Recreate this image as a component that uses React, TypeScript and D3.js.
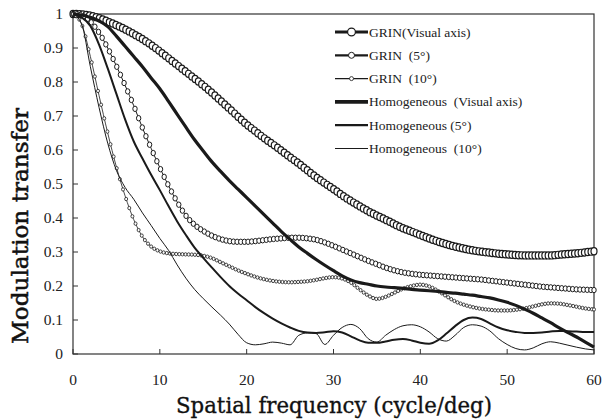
import React, { useEffect, useRef } from 'react';
import * as d3 from 'd3';

// ---- data ----
const freq = [0,1,2,3,4,5,6,7,8,9,10,11,12,13,14,15,16,17,18,19,20,21,22,23,24,25,26,27,28,29,30,31,32,33,34,35,36,37,38,39,40,41,42,43,44,45,46,47,48,49,50,51,52,53,54,55,56,57,58,59,60];

const grinVisual = [1,0.999,0.995,0.988,0.978,0.967,0.955,0.941,0.926,0.909,0.89,0.87,0.85,0.83,0.81,0.79,0.768,0.745,0.722,0.698,0.675,0.655,0.635,0.617,0.598,0.579,0.56,0.54,0.52,0.502,0.485,0.467,0.45,0.435,0.42,0.407,0.395,0.382,0.37,0.36,0.35,0.34,0.331,0.323,0.316,0.31,0.305,0.301,0.298,0.295,0.293,0.291,0.29,0.29,0.29,0.29,0.292,0.294,0.296,0.299,0.302];

const grin5 = [1,0.996,0.978,0.945,0.9,0.847,0.79,0.73,0.665,0.605,0.548,0.495,0.447,0.407,0.38,0.362,0.348,0.338,0.332,0.33,0.33,0.332,0.335,0.338,0.34,0.342,0.342,0.34,0.336,0.328,0.318,0.307,0.296,0.285,0.274,0.264,0.254,0.246,0.24,0.236,0.233,0.231,0.229,0.227,0.225,0.223,0.221,0.219,0.216,0.213,0.21,0.207,0.204,0.201,0.198,0.196,0.194,0.192,0.19,0.189,0.188];

const grin10 = [1,0.97,0.875,0.76,0.65,0.55,0.465,0.395,0.345,0.316,0.302,0.296,0.294,0.293,0.292,0.289,0.282,0.27,0.258,0.246,0.236,0.227,0.22,0.215,0.212,0.211,0.212,0.214,0.218,0.223,0.226,0.222,0.21,0.19,0.172,0.162,0.168,0.18,0.192,0.2,0.204,0.199,0.186,0.17,0.155,0.145,0.138,0.133,0.13,0.128,0.128,0.13,0.134,0.14,0.146,0.149,0.148,0.144,0.139,0.134,0.131];

const homVisual = [1,0.997,0.99,0.98,0.963,0.935,0.905,0.875,0.845,0.812,0.78,0.743,0.705,0.667,0.63,0.597,0.565,0.537,0.51,0.485,0.46,0.435,0.41,0.385,0.36,0.337,0.315,0.296,0.278,0.261,0.245,0.23,0.218,0.21,0.205,0.2,0.197,0.195,0.193,0.19,0.188,0.186,0.184,0.181,0.179,0.176,0.173,0.169,0.165,0.159,0.152,0.143,0.132,0.12,0.106,0.092,0.077,0.063,0.05,0.035,0.02];

const hom5 = [1,0.99,0.965,0.91,0.84,0.765,0.69,0.625,0.575,0.527,0.482,0.435,0.39,0.35,0.313,0.283,0.254,0.226,0.2,0.178,0.158,0.138,0.12,0.104,0.09,0.078,0.068,0.063,0.062,0.064,0.067,0.063,0.052,0.04,0.033,0.033,0.037,0.042,0.044,0.04,0.033,0.03,0.04,0.06,0.082,0.1,0.107,0.103,0.09,0.078,0.07,0.065,0.062,0.062,0.063,0.066,0.068,0.067,0.066,0.065,0.065];

const hom10 = [1,0.97,0.845,0.725,0.62,0.54,0.49,0.455,0.415,0.378,0.34,0.305,0.262,0.223,0.19,0.163,0.138,0.114,0.088,0.058,0.033,0.027,0.03,0.035,0.032,0.027,0.055,0.062,0.06,0.028,0.055,0.078,0.087,0.075,0.045,0.035,0.055,0.072,0.083,0.086,0.08,0.065,0.045,0.038,0.055,0.078,0.086,0.082,0.068,0.045,0.028,0.016,0.012,0.018,0.03,0.036,0.032,0.026,0.02,0.015,0.012];

const seriesNames = [
  'GRIN(Visual axis)',
  'GRIN  (5°)',
  'GRIN  (10°)',
  'Homogeneous  (Visual axis)',
  'Homogeneous (5°)',
  'Homogeneous  (10°)',
];

const xTicks = [0, 10, 20, 30, 40, 50, 60];
const yTicks = [0, 0.1, 0.2, 0.3, 0.4, 0.5, 0.6, 0.7, 0.8, 0.9, 1];
const yTickLabels = ['0', '0.1', '0.2', '0.3', '0.4', '0.5', '0.6', '0.7', '0.8', '0.9', '1'];

const xTitle = 'Spatial frequency (cycle/deg)';
const yTitle = 'Modulation transfer';

// ---- styles ----
const seriesValues = [grinVisual, grin5, grin10, homVisual, hom5, hom10];
const styles = [
  { lw: 1.2, rx: 3.0, ry: 3.6, mw: 1.2, step: 0.38, legLw: 3 },
  { lw: 1.0, rx: 2.2, ry: 2.7, mw: 1.0, step: 0.42, legLw: 2.2 },
  { lw: 0.8, rx: 1.5, ry: 1.7, mw: 0.8, step: 0.36, legLw: 1.4 },
  { lw: 3.2, rx: 0, ry: 0, mw: 0, step: 0, legLw: 3.6 },
  { lw: 2.0, rx: 0, ry: 0, mw: 0, step: 0, legLw: 2.2 },
  { lw: 1.0, rx: 0, ry: 0, mw: 0, step: 0, legLw: 1.0 },
];

const INK = '#1a1a1a';
const W = 602;
const H = 420;
const X0 = 73, X1 = 594, Y0 = 354, Y1 = 14;

export default function App() {
  const gRef = useRef<SVGGElement | null>(null);
  const x = d3.scaleLinear().domain([0, 60]).range([X0, X1]);
  const y = d3.scaleLinear().domain([0, 1]).range([Y0, Y1]);
  const line = d3
    .line<number>()
    .x((_, i) => x(freq[i]))
    .y((d) => y(d))
    .curve(d3.curveMonotoneX);

  useEffect(() => {
    const g = d3.select(gRef.current);
    g.selectAll('*').remove();
    [0, 1, 2, 3, 4, 5].forEach((si) => {
      const st = styles[si];
      const path = g
        .append('path')
        .attr('d', line(seriesValues[si]) as string)
        .attr('fill', 'none')
        .attr('stroke', INK)
        .attr('stroke-width', st.lw)
        .attr('stroke-linejoin', 'round');
      if (st.rx > 0) {
        const node = path.node() as SVGPathElement;
        const L = node.getTotalLength();
        const xs = d3.range(0, 60.0001, st.step).map((v) => x(v));
        xs.push(x(60));
        const pts = xs.map((tx) => {
          let lo = 0, hi = L;
          for (let k = 0; k < 30; k++) {
            const mid = (lo + hi) / 2;
            const p = node.getPointAtLength(mid);
            if (p.x < tx) lo = mid; else hi = mid;
          }
          const p = node.getPointAtLength((lo + hi) / 2);
          return [p.x, p.y];
        });
        g.append('g')
          .selectAll('ellipse')
          .data(pts)
          .join('ellipse')
          .attr('cx', (d) => d[0])
          .attr('cy', (d) => d[1])
          .attr('rx', st.rx)
          .attr('ry', st.ry)
          .attr('fill', 'white')
          .attr('stroke', INK)
          .attr('stroke-width', st.mw);
      }
    });
  }, []);

  const legX0 = 335, legX1 = 368, legTextX = 369;
  const legY = (i: number) => 32 + i * 23.3;

  return (
    <svg width={W} height={H} style={{ position: 'absolute', left: 0, top: 0, background: 'white' }}>
      <rect x={0} y={0} width={W} height={H} fill="white" />
      <rect x={X0} y={Y1} width={X1 - X0} height={Y0 - Y1} fill="none" stroke="#333" strokeWidth={1.2} />
      {yTicks.map((t, i) => (
        <g key={'y' + i}>
          <line x1={X0} x2={X0 + 5} y1={y(t)} y2={y(t)} stroke="#333" strokeWidth={1} />
          <text x={63} y={y(t) + 5} textAnchor="end" fontFamily="'Liberation Serif', serif" fontSize={15.5} fill="#222">
            {yTickLabels[i]}
          </text>
        </g>
      ))}
      {xTicks.map((t, i) => (
        <g key={'x' + i}>
          <line x1={x(t)} x2={x(t)} y1={Y0} y2={Y0 - 5} stroke="#333" strokeWidth={1} />
          <text x={x(t)} y={385} textAnchor="middle" fontFamily="'Liberation Serif', serif" fontSize={15.5} fill="#222">
            {t}
          </text>
        </g>
      ))}
      <g ref={gRef} />
      {seriesNames.map((name, i) => {
        const st = styles[i];
        const cy = legY(i);
        return (
          <g key={'leg' + i}>
            <line x1={legX0} x2={legX1} y1={cy} y2={cy} stroke={INK} strokeWidth={st.legLw} />
            {st.rx > 0 && (
              <circle cx={(legX0 + legX1) / 2} cy={cy} r={st.ry + 0.3} fill="white" stroke={INK} strokeWidth={st.mw} />
            )}
            <text
              x={legTextX}
              y={cy + 4.5}
              fontFamily="'Liberation Serif', serif"
              fontSize={13.5}
              fill="#222"
              style={{ whiteSpace: 'pre' }}
            >
              {name}
            </text>
          </g>
        );
      })}
      <text
        x={334}
        y={413}
        textAnchor="middle"
        fontFamily="'DejaVu Serif', serif"
        fontSize={23}
        textLength={316}
        lengthAdjust="spacingAndGlyphs"
        fill="#111"
        stroke="#111"
        strokeWidth={0.35}
      >
        {xTitle}
      </text>
      <text
        transform="translate(28,226) rotate(-90)"
        textAnchor="middle"
        fontFamily="'DejaVu Serif', serif"
        fontSize={22}
        textLength={236}
        lengthAdjust="spacingAndGlyphs"
        fill="#111"
        stroke="#111"
        strokeWidth={0.5}
      >
        {yTitle}
      </text>
    </svg>
  );
}
